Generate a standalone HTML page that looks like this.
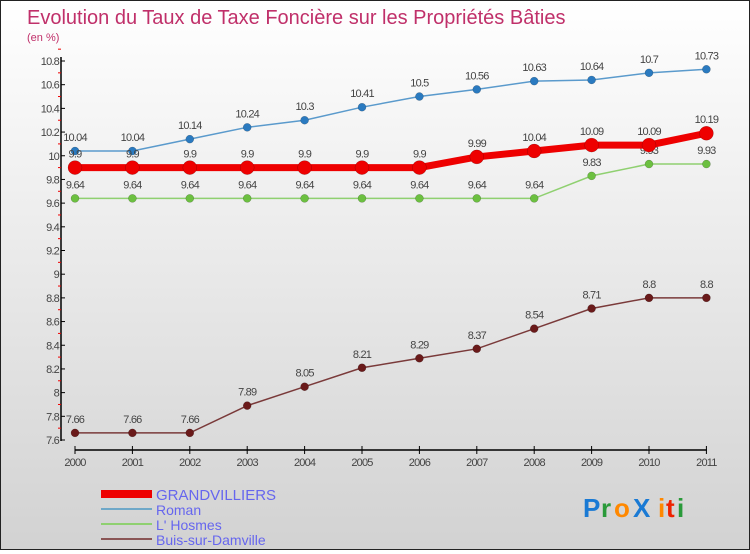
<!DOCTYPE html>
<html><head><meta charset="utf-8">
<style>
body{margin:0;width:750px;height:550px;overflow:hidden}
#wrap{position:relative;width:748px;height:548px;border:1px solid #222;background:linear-gradient(#ffffff,#d2d2d2)}
svg text{font-family:"Liberation Sans",sans-serif}
</style></head><body>
<div id="wrap">
<svg id="c" width="748" height="548" xmlns="http://www.w3.org/2000/svg">
<text x="26" y="23" font-size="20" fill="#c0306a">Evolution du Taux de Taxe Foncière sur les Propriétés Bâties</text>
<text x="26" y="40" font-size="11" fill="#c0306a">(en %)</text>
<g id="axes"></g><g id="series"></g>
<g>
<rect x="100" y="489" width="51" height="8" fill="#ee0000"/>
<text x="155" y="499" font-size="15" fill="#6666ee">GRANDVILLIERS</text>
<line x1="100" y1="508" x2="151" y2="508" stroke="#6fa8c8" stroke-width="2"/>
<text x="155" y="514" font-size="14" fill="#6666ee">Roman</text>
<line x1="100" y1="523" x2="151" y2="523" stroke="#8fd070" stroke-width="2"/>
<text x="155" y="529" font-size="14" fill="#6666ee">L' Hosmes</text>
<line x1="100" y1="538" x2="151" y2="538" stroke="#8a5555" stroke-width="2"/>
<text x="155" y="544" font-size="14" fill="#6666ee">Buis-sur-Damville</text>
</g>
<g font-size="26" font-weight="bold">
<text x="582" y="516" fill="#1a7ad4">P</text><text x="600" y="516" fill="#2a9a3a">r</text><text x="613" y="516" fill="#ff8800">o</text>
<text x="632" y="516" fill="#1a7ad4">X</text><text x="657" y="516" fill="#ff8800">i</text><text x="665" y="516" fill="#ee2200">t</text><text x="676" y="516" fill="#2a9a3a">i</text>
</g>
</svg></div>
<script>
const years=[2000,2001,2002,2003,2004,2005,2006,2007,2008,2009,2010,2011];
const grandvilliers=[9.9,9.9,9.9,9.9,9.9,9.9,9.9,9.99,10.04,10.09,10.09,10.19];
const roman=[10.04,10.04,10.14,10.24,10.3,10.41,10.5,10.56,10.63,10.64,10.7,10.73];
const lhosmes=[9.64,9.64,9.64,9.64,9.64,9.64,9.64,9.64,9.64,9.83,9.93,9.93];
const buis=[7.66,7.66,7.66,7.89,8.05,8.21,8.29,8.37,8.54,8.71,8.8,8.8];
const yTicks=[7.6,7.8,8,8.2,8.4,8.6,8.8,9,9.2,9.4,9.6,9.8,10,10.2,10.4,10.6,10.8];
const NS="http://www.w3.org/2000/svg";
const x=i=>74+i*57.4;
const y=v=>439-(v-7.6)/3.2*379;
function mk(p,t,a){const e=document.createElementNS(NS,t);for(const k in a)e.setAttribute(k,a[k]);p.appendChild(e);return e;}
const ax=document.getElementById('axes');
let l=mk(ax,'line',{x1:60,y1:56,x2:60,y2:440,stroke:'#000','stroke-width':1.5});


l=mk(ax,'line',{x1:74,y1:449,x2:706,y2:449,stroke:'#000','stroke-width':1.5});


yTicks.forEach(v=>{
 mk(ax,'line',{x1:60,y1:y(v),x2:64,y2:y(v),stroke:'#000'});
 mk(ax,'line',{x1:57,y1:y(v+0.1),x2:60,y2:y(v+0.1),stroke:'#e00'});
 const t=mk(ax,'text',{x:58,y:y(v)+4,'font-size':11,'text-anchor':'end',fill:'#444','letter-spacing':'-0.8'});
 t.textContent=String(v);
 
 
});
years.forEach((yr,i)=>{
 mk(ax,'line',{x1:x(i),y1:445,x2:x(i),y2:453,stroke:'#000'});
 const t=mk(ax,'text',{x:x(i),y:465,'font-size':11,'text-anchor':'middle',fill:'#444','letter-spacing':'-0.8'});
 t.textContent=yr;
 
 
});
const sg=document.getElementById('series');
function draw(vals,name,col,dot,w,r){
 const g=mk(sg,'g',{});
 
 
 const line=mk(g,'polyline',{points:vals.map((v,i)=>x(i)+','+y(v)).join(' '),fill:'none',stroke:col,'stroke-width':w});
 
 
 vals.forEach((v,i)=>{
  const c=mk(g,'circle',{cx:x(i),cy:y(v),r:r,fill:dot,stroke:'rgba(0,0,0,0.3)','stroke-width':0.5});
  
  
  const t=mk(g,'text',{x:x(i),y:y(v)-10,'font-size':11,'text-anchor':'middle',fill:'#444','letter-spacing':'-0.8'});
  t.textContent=String(v);
  
  
 });
}
draw(buis,'buis-sur-damville','#7a3a3a','#6a1a1a',1.5,4);
draw(lhosmes,'lhosmes','#8fd070','#6cc040',1.5,4);
draw(roman,'roman','#5a9acc','#2a7ac0',1.5,4);
draw(grandvilliers,'grandvilliers','#ee0000','#ee0000',7,7);
</script>
</body></html>
